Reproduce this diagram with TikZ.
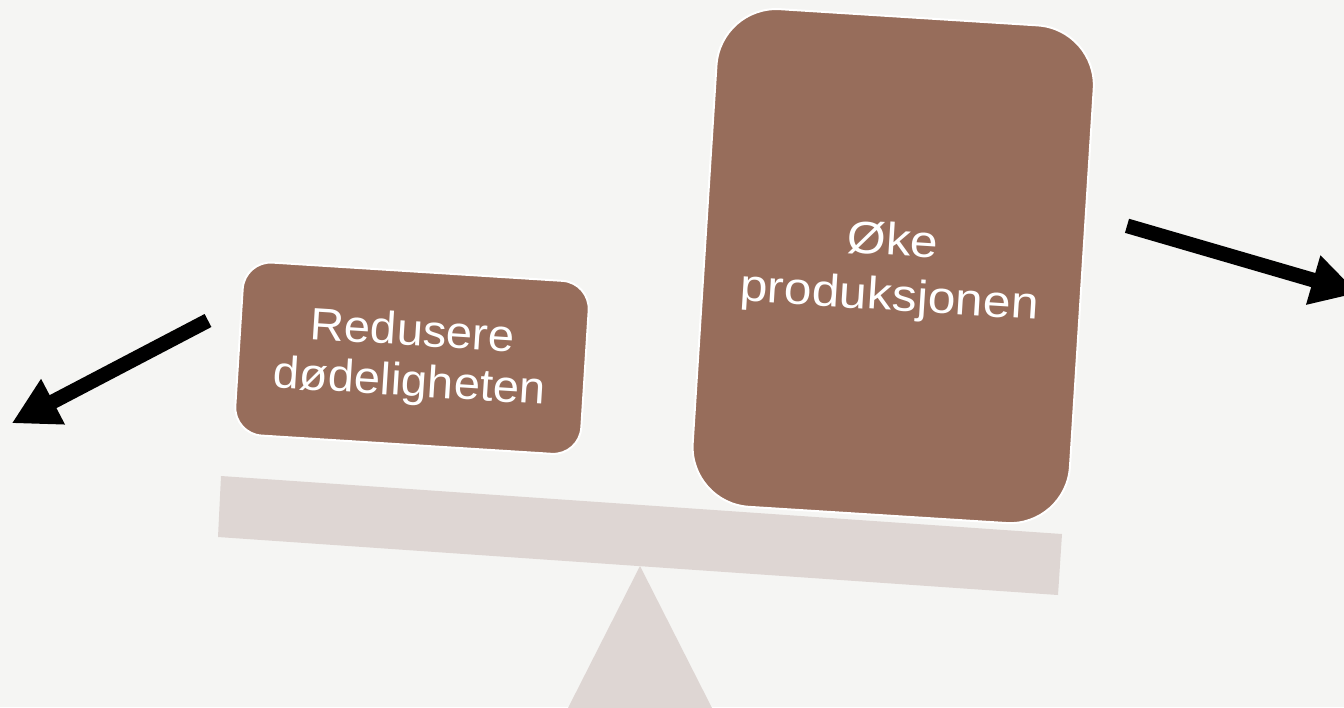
\documentclass[tikz,border=0pt]{standalone}
\usepackage{fontspec}
\setmainfont{Liberation Sans}
\newfontfamily\wideL[FakeStretch=1.04]{Liberation Sans}
\newfontfamily\wideR[FakeStretch=1.10]{Liberation Sans}
\usetikzlibrary{arrows.meta}
\definecolor{bg}{RGB}{245,245,243}
\definecolor{beamc}{RGB}{222,214,211}
\definecolor{boxc}{RGB}{151,109,91}
\begin{document}
\begin{tikzpicture}[x=0.75pt,y=-0.75pt,
  card/.style={draw=white, line width=1.5pt, fill=boxc, inner sep=0pt, outer sep=0pt, rotate=-3.6},
  cardtext/.style={text=white, align=center, inner sep=0pt, rotate=-3.6},
  bigarrow/.style={line width=11pt, -{Triangle[length=35pt,width=36pt]}},
  scalepart/.style={fill=beamc}]
\fill[bg] (0,0) rectangle (1344,707);
\useasboundingbox (0,0) rectangle (1344,707);
\clip (0,0) rectangle (1344,707);
% fulcrum and beam
\fill[scalepart] (568,708) -- (640,566) -- (712,708) -- cycle;
\fill[scalepart] (221,476) -- (1062,534) -- (1058,595) -- (218,537) -- cycle;
% weights
\node[card, rounded corners=21pt, minimum width=260pt, minimum height=130pt] (left) at (412,358.2) {};
\node[cardtext, font=\wideL\fontsize{34}{38}\selectfont] (lefttext) at (411,359) {Redusere\\dødeligheten};
\node[card, rounded corners=45pt, minimum width=283.5pt, minimum height=374pt] (right) at (893.2,266.1) {};
\node[cardtext, font=\wideR\fontsize{34}{41.5}\selectfont] (righttext) at (891,271) {Øke\\produksjonen};
% arrows
\coordinate (la1) at (208,320.5);
\coordinate (la2) at (11.7,423.3);
\coordinate (ra1) at (1127,225.8);
\coordinate (ra2) at (1358,293.1);
\draw[bigarrow] (la1) -- (la2);
\draw[bigarrow] (ra1) -- (ra2);
\end{tikzpicture}
\end{document}
